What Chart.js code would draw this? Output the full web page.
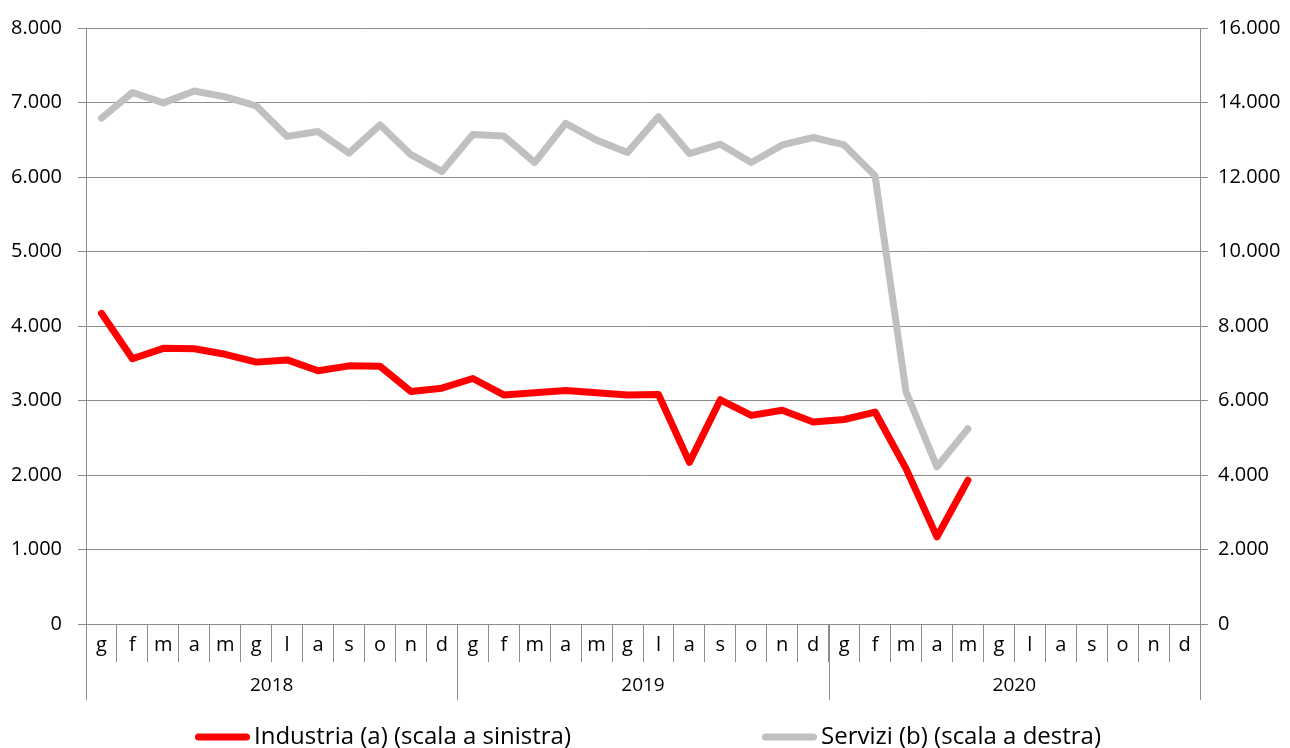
<!DOCTYPE html>
<html>
<head>
<meta charset="utf-8">
<script src="https://cdn.jsdelivr.net/npm/chart.js@4.4.1/dist/chart.umd.min.js"></script>
<style>
  html, body { margin: 0; padding: 0; background: #fff; }
  #wrap { width: 1290px; height: 748px; position: relative; }
</style>
</head>
<body>
<div id="wrap"><canvas id="chart"></canvas></div>
<script>
const months = ['g', 'f', 'm', 'a', 'm', 'g', 'l', 'a', 's', 'o', 'n', 'd'];
const years = ['2018', '2019', '2020'];
const categories = years.flatMap(() => months);

const industria = [4170, 3560, 3700, 3695, 3620, 3515, 3545, 3400, 3465, 3460, 3120, 3165,
    3295, 3075, 3105, 3135, 3105, 3075, 3080, 2170, 3010, 2800, 2870, 2710,
    2745, 2845, 2085, 1170, 1930, null, null, null, null, null, null, null];
const servizi = [13580, 14270, 13990, 14310, 14150, 13910, 13090, 13220, 12640, 13400, 12600, 12150,
    13140, 13100, 12390, 13440, 12990, 12660, 13620, 12630, 12880, 12390, 12860, 13060,
    12860, 12030, 6230, 4220, 5240, null, null, null, null, null, null, null];

const FONT = '"Open Sans", sans-serif';
const gridGray = '#8c8c8c';

function fmt(v) {
    return String(v).replace(/\B(?=(\d{3})+(?!\d))/g, '.');
}

// year row under the month labels
const yearRow = {
    id: 'yearRow',
    afterDraw(chart) {
        const x = chart.scales.x;
        const ctx = chart.ctx;
        const half = (x.getPixelForValue(1) - x.getPixelForValue(0)) / 2;
        const top = x.top;
        ctx.save();
        ctx.strokeStyle = gridGray;
        ctx.lineWidth = 1;
        ctx.fillStyle = '#000';
        ctx.font = '19px ' + FONT;
        ctx.textAlign = 'center';
        ctx.textBaseline = 'middle';
        years.forEach((y, i) => {
            const a = x.getPixelForValue(i * 12) - half;
            const b = x.getPixelForValue(i * 12 + 11) + half;
            ctx.fillText(y, (a + b) / 2, top + 62);
            ctx.beginPath();
            ctx.moveTo(Math.round(a) + 0.5, top);
            ctx.lineTo(Math.round(a) + 0.5, top + 76);
            ctx.stroke();
            if (i === years.length - 1) {
                ctx.beginPath();
                ctx.moveTo(Math.round(b) + 0.5, top);
                ctx.lineTo(Math.round(b) + 0.5, top + 76);
                ctx.stroke();
            }
        });
        ctx.restore();
    }
};

// legend drawn by hand so the two entries can sit far apart
const legendStarts = [195, 762];
const bottomLegend = {
    id: 'bottomLegend',
    afterDraw(chart) {
        const ctx = chart.ctx;
        const y = 737;
        ctx.save();
        ctx.font = '24px ' + FONT;
        ctx.textBaseline = 'middle';
        ctx.textAlign = 'left';
        chart.data.datasets.forEach((ds, i) => {
            const x0 = legendStarts[i];
            ctx.strokeStyle = ds.borderColor;
            ctx.lineWidth = 7;
            ctx.lineCap = 'round';
            ctx.beginPath();
            ctx.moveTo(x0 + 3.5, y);
            ctx.lineTo(x0 + 55 - 3.5, y);
            ctx.stroke();
            ctx.fillStyle = '#000';
            ctx.fillText(ds.label, x0 + 59, y);
        });
        ctx.restore();
    }
};

new Chart(document.getElementById('chart'), {
    type: 'line',
    data: {
        labels: categories,
        datasets: [{
            label: 'Industria (a) (scala a sinistra)',
            data: industria,
            yAxisID: 'y',
            borderColor: '#ff0000',
            backgroundColor: '#ff0000',
            borderWidth: 7,
            pointRadius: 0,
            tension: 0,
            borderCapStyle: 'round',
            borderJoinStyle: 'round'
        }, {
            label: 'Servizi (b) (scala a destra)',
            data: servizi,
            yAxisID: 'y1',
            borderColor: '#c0c0c0',
            backgroundColor: '#c0c0c0',
            borderWidth: 7,
            pointRadius: 0,
            tension: 0,
            borderCapStyle: 'round',
            borderJoinStyle: 'round'
        }]
    },
    options: {
        responsive: true,
        maintainAspectRatio: false,
        animation: false,
        layout: { padding: { top: 27, left: 0, right: 0, bottom: 0 } },
        plugins: {
            tooltip: { enabled: false },
            legend: { display: false }
        },
        scales: {
            x: {
                offset: true,
                grid: {
                    offset: true,
                    drawOnChartArea: false,
                    tickLength: 38,
                    color: gridGray
                },
                border: { color: gridGray },
                ticks: {
                    color: '#000',
                    font: { family: FONT, size: 20 },
                    padding: -29,
                    maxRotation: 0,
                    autoSkip: false
                },
                afterFit(s) { s.height = 124; }
            },
            y: {
                position: 'left',
                min: 0,
                max: 8000,
                ticks: {
                    stepSize: 1000,
                    color: '#000',
                    font: { family: FONT, size: 20 },
                    padding: 16,
                    callback: v => fmt(v)
                },
                grid: { color: gridGray, tickLength: 8 },
                border: { color: gridGray },
                afterFit(s) { s.width = 86; }
            },
            y1: {
                position: 'right',
                min: 0,
                max: 16000,
                ticks: {
                    stepSize: 2000,
                    color: '#000',
                    font: { family: FONT, size: 20 },
                    padding: 10,
                    callback: v => fmt(v)
                },
                grid: { drawOnChartArea: false, color: gridGray, tickLength: 8 },
                border: { color: gridGray },
                afterFit(s) { s.width = 90; }
            }
        }
    },
    plugins: [yearRow, bottomLegend]
});
</script>
</body>
</html>
